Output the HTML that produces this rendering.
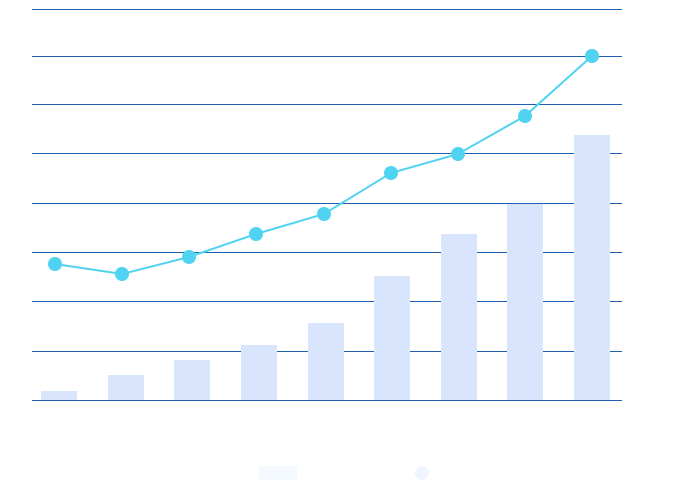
<!DOCTYPE html><html><head><style>body{margin:0;background:#fff}svg{display:block}</style></head><body>
<svg width="680" height="480" xmlns="http://www.w3.org/2000/svg">
<g stroke="#1f5fb0" stroke-width="1">
<line x1="32" x2="622" y1="9.5" y2="9.5"/><line x1="32" x2="622" y1="56.5" y2="56.5"/><line x1="32" x2="622" y1="104.5" y2="104.5"/><line x1="32" x2="622" y1="153.5" y2="153.5"/><line x1="32" x2="622" y1="203.5" y2="203.5"/><line x1="32" x2="622" y1="252.5" y2="252.5"/><line x1="32" x2="622" y1="301.5" y2="301.5"/><line x1="32" x2="622" y1="351.5" y2="351.5"/><line x1="32" x2="622" y1="400.5" y2="400.5"/>
</g>
<g fill="#d8e5fc">
<rect x="41" y="391" width="36" height="9"/><rect x="108" y="375" width="36" height="25"/><rect x="174" y="360" width="36" height="40"/><rect x="241" y="345" width="36" height="55"/><rect x="308" y="323" width="36" height="77"/><rect x="374" y="276" width="36" height="124"/><rect x="441" y="234" width="36" height="166"/><rect x="507" y="204" width="36" height="196"/><rect x="574" y="135" width="36" height="265"/>
</g>
<polyline fill="none" stroke="#50d3f0" stroke-width="2" points="55,264 122,274 189,257 256,234 324,214 391,173 458,154 525,116 592,56"/>
<g fill="#50d3f0">
<circle cx="55" cy="264" r="7"/><circle cx="122" cy="274" r="7"/><circle cx="189" cy="257" r="7"/><circle cx="256" cy="234" r="7"/><circle cx="324" cy="214" r="7"/><circle cx="391" cy="173" r="7"/><circle cx="458" cy="154" r="7"/><circle cx="525" cy="116" r="7"/><circle cx="592" cy="56" r="7"/>
</g>
<rect x="259" y="466" width="38" height="14" fill="#f4f8ff"/>
<circle cx="422" cy="473" r="7" fill="#eef5ff"/>
</svg></body></html>
